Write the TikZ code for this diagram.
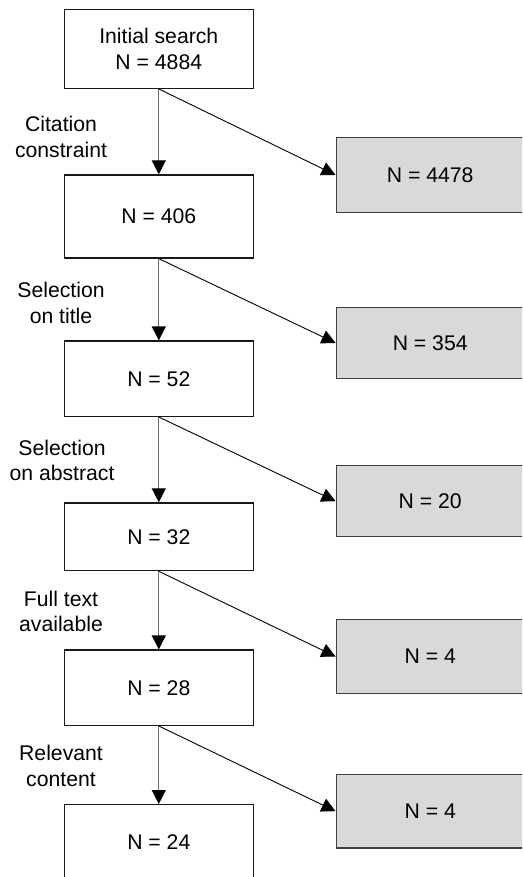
\documentclass[tikz,border=0pt]{standalone}
\usepackage{fontspec}
\setmainfont{Liberation Sans}
\usetikzlibrary{arrows.meta}
\definecolor{excl}{HTML}{D9D9D9}
\definecolor{vline}{HTML}{6E6E6E}
\begin{document}
\begin{tikzpicture}[x=1pt,y=-1pt,
  every node/.style={font=\fontsize{21.2}{25.7}\selectfont, inner sep=0pt},
  stagebox/.style={draw=black!90, line width=1.3pt, fill=white, minimum width=189pt, align=center},
  dropbox/.style={draw=black!75, line width=1.3pt, fill=excl, minimum width=188pt},
  steplabel/.style={align=center},
  tip/.style={-{Triangle[length=14pt,width=14pt,color=black]}},
  down/.style={tip, draw=vline, line width=1.3pt},
  aside/.style={tip, draw=black, line width=0.9pt}]
\useasboundingbox (0,0) rectangle (522,877);
\clip (0,0) rectangle (522,877);

% main chain
\node[stagebox, minimum height=79pt] (s1) at (158.8,48.8) {Initial search\\N = 4884};
\node[stagebox, minimum height=83pt] (s2) at (158.8,216.5) {N = 406};
\node[stagebox, minimum height=75.3pt] (s3) at (158.8,378.7) {N = 52};
\node[stagebox, minimum height=67.7pt] (s4) at (158.8,536.8) {N = 32};
\node[stagebox, minimum height=75.3pt] (s5) at (158.8,687.7) {N = 28};
\node[stagebox, minimum height=75pt] (s6) at (158.8,842.2) {N = 24};

% excluded records
\node[dropbox, minimum height=75.4pt] (r1) at (430.2,175) {N = 4478};
\node[dropbox, minimum height=71.4pt] (r2) at (430.2,343) {N = 354};
\node[dropbox, minimum height=71pt] (r3) at (430.2,501.2) {N = 20};
\node[dropbox, minimum height=73.6pt] (r4) at (430.2,656.5) {N = 4};
\node[dropbox, minimum height=73.7pt] (r5) at (430.2,811.2) {N = 4};

% step labels
\node[steplabel] (l1) at (61,137) {Citation\\constraint};
\node[steplabel] (l2) at (61,303) {Selection\\on title};
\node[steplabel] (l3) at (62,460.5) {Selection\\on abstract};
\node[steplabel] (l4) at (61,611.5) {Full text\\available};
\node[steplabel] (l5) at (61,766) {Relevant\\content};

% connectors
\foreach \a/\b in {s1/s2,s2/s3,s3/s4,s4/s5,s5/s6}
  \draw[down] (\a.south) -- (\b.north);
\foreach \a/\b in {s1/r1,s2/r2,s3/r3,s4/r4,s5/r5}
  \draw[aside] (\a.south) -- (\b.west);
\end{tikzpicture}
\end{document}
